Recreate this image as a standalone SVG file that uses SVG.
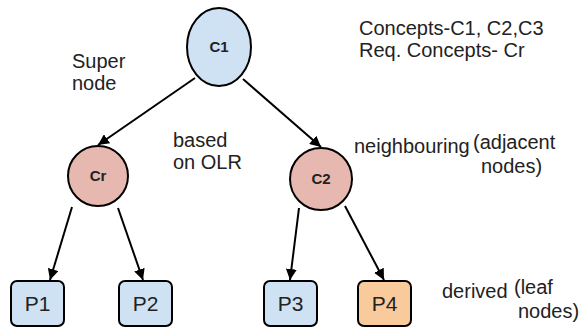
<svg xmlns="http://www.w3.org/2000/svg" width="579" height="329" viewBox="0 0 579 329">
<defs>
<style>
.bg{fill:#ffffff}
.node{stroke:#000;stroke-width:2}
.blue{fill:#cfe2f3}
.pink{fill:#e6b8af}
.orange{fill:#f9cb9c}
.lbl{font-family:"Liberation Sans",Arial,sans-serif;font-size:15px;font-weight:bold;fill:#222;text-anchor:middle}
.plbl{font-family:"Liberation Sans",Arial,sans-serif;font-size:21px;fill:#222;text-anchor:middle}
.note{font-family:"Liberation Sans",Arial,sans-serif;font-size:20px;fill:#222}
.edge{stroke:#000;stroke-width:2;fill:none;marker-end:url(#arrow)}
</style>
<marker id="arrow" viewBox="0 0 10 10" refX="10" refY="5" markerWidth="5.5" markerHeight="5.5" orient="auto" markerUnits="strokeWidth">
<path d="M0,0 L10,5 L0,10 z" fill="#000"/>
</marker>
</defs>
<rect class="bg" x="0" y="0" width="579" height="329"/>
<g id="connectors">
<line class="edge" x1="195" y1="78" x2="98" y2="145"/>
<line class="edge" x1="243" y1="79" x2="321" y2="147"/>
<line class="edge" x1="72" y1="207" x2="50" y2="280"/>
<line class="edge" x1="118" y1="208" x2="143" y2="280"/>
<line class="edge" x1="299" y1="208" x2="290" y2="280"/>
<line class="edge" x1="345" y1="206" x2="384" y2="280"/>
</g>
<g id="C1"><ellipse class="node blue" cx="219" cy="47" rx="32" ry="39"/><text class="lbl" x="219" y="52">C1</text></g>
<g id="Cr"><circle class="node pink" cx="98" cy="176" r="30"/><text class="lbl" x="98" y="181">Cr</text></g>
<g id="C2"><circle class="node pink" cx="321" cy="179" r="31"/><text class="lbl" x="321" y="184">C2</text></g>
<g id="P1"><rect class="node blue" x="11" y="281" width="53" height="45" rx="6"/><text class="plbl" x="37.5" y="311">P1</text></g>
<g id="P2"><rect class="node blue" x="119" y="281" width="53" height="45" rx="6"/><text class="plbl" x="145.5" y="311">P2</text></g>
<g id="P3"><rect class="node blue" x="264" y="281" width="53" height="45" rx="6"/><text class="plbl" x="290.5" y="311">P3</text></g>
<g id="P4"><rect class="node orange" x="358" y="281" width="53" height="45" rx="6"/><text class="plbl" x="384.5" y="311">P4</text></g>
<g id="notes">
<text class="note" x="359" y="35">Concepts-C1, C2,C3</text>
<text class="note" x="359" y="57">Req. Concepts- Cr</text>
<text class="note" x="72" y="68">Super</text>
<text class="note" x="72" y="90">node</text>
<text class="note" x="173" y="147">based</text>
<text class="note" x="173" y="169">on OLR</text>
<text class="note" x="354" y="153">neighbouring</text>
<text class="note" x="473" y="149">(adjacent</text>
<text class="note" x="481" y="173">nodes)</text>
<text class="note" x="442" y="298">derived</text>
<text class="note" x="514" y="294">(leaf</text>
<text class="note" x="518" y="318">nodes)</text>
</g>
</svg>
